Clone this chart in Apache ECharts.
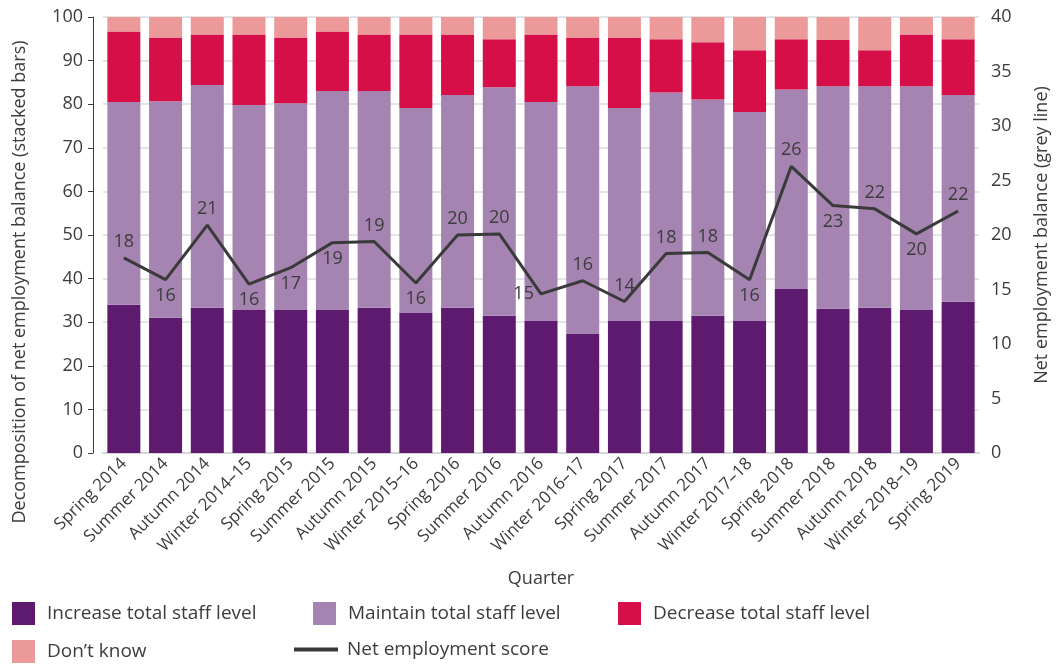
<!DOCTYPE html>
<html>
<head>
<meta charset="utf-8">
<script src="https://cdn.jsdelivr.net/npm/echarts@6/dist/echarts.min.js"></script>
<style>
  html, body { margin: 0; padding: 0; background: #fff; }
  #chart { width: 1059px; height: 664px; }
</style>
</head>
<body>
<div id="chart"></div>
<script>
const quarters = ['Spring 2014', 'Summer 2014', 'Autumn 2014', 'Winter 2014–15', 'Spring 2015', 'Summer 2015',
  'Autumn 2015', 'Winter 2015–16', 'Spring 2016', 'Summer 2016', 'Autumn 2016', 'Winter 2016–17', 'Spring 2017',
  'Summer 2017', 'Autumn 2017', 'Winter 2017–18', 'Spring 2018', 'Summer 2018', 'Autumn 2018', 'Winter 2018–19', 'Spring 2019']

const increase = [34.0, 31.0, 33.3, 32.8, 32.8, 32.8, 33.3, 32.1, 33.3, 31.5, 30.3, 27.3, 30.3, 30.3, 31.5, 30.3, 37.6, 33.1, 33.3, 32.8, 34.7]
const maintain = [46.5, 49.7, 51.1, 47.0, 47.4, 50.2, 49.7, 47.0, 48.8, 52.4, 50.2, 56.8, 48.8, 52.4, 49.6, 47.9, 45.8, 51.0, 50.8, 51.3, 47.4]
const decrease = [16.2, 14.6, 11.6, 16.2, 15.1, 13.7, 13.0, 16.9, 13.9, 11.0, 15.5, 11.2, 16.2, 12.2, 13.1, 14.2, 11.5, 10.6, 8.3, 11.9, 12.8]
const dontKnow = [3.3, 4.7, 4.0, 4.0, 4.7, 3.3, 4.0, 4.0, 4.0, 5.1, 4.0, 4.7, 4.7, 5.1, 5.8, 7.6, 5.1, 5.3, 7.6, 4.0, 5.1]
const netScore = [17.9, 15.9, 20.9, 15.5, 17.0, 19.3, 19.4, 15.6, 20.0, 20.1, 14.6, 15.8, 13.9, 18.3, 18.4, 15.9, 26.3, 22.7, 22.4, 20.1, 22.2]

const leftTicks = [0, 100, 10]
const rightTicks = [0, 40, 5]

const FONT = 'Open Sans'
const TXT = '#3c3c3c'

// where each score label sits relative to the line
const labelSide = ['top', 'bottom', 'top', 'bottom', 'bottom', 'bottom', 'top', 'bottom', 'top', 'top', 'left',
  'top', 'top', 'top', 'top', 'bottom', 'top', 'bottom', 'top', 'bottom', 'top']

const chart = echarts.init(document.getElementById('chart'))

function barSeries (name, data, color) {
  return {
    name: name,
    type: 'bar',
    stack: 'share',
    barWidth: 33,
    yAxisIndex: 0,
    itemStyle: { color: color },
    data: data
  }
}

function legendItem (name, left, top, extra) {
  return Object.assign({
    data: [name],
    left: left,
    top: top,
    padding: 0,
    icon: 'rect',
    itemWidth: 23,
    itemHeight: 23,
    selectedMode: false,
    textStyle: { fontFamily: FONT, fontSize: 19, color: TXT, padding: [0, 0, 0, 7] }
  }, extra || {})
}

const option = {
  animation: false,
  textStyle: { fontFamily: FONT },
  grid: { left: 103, right: 78, top: 17, bottom: 211 },
  legend: [
    legendItem('Increase total staff level', 12, 602),
    legendItem('Maintain total staff level', 313, 602),
    legendItem('Decrease total staff level', 618, 602),
    legendItem('Don\u2019t know', 12, 640),
    legendItem('Net employment score', 294, 640, {
      itemWidth: 44,
      itemHeight: 4,
      textStyle: { fontFamily: FONT, fontSize: 19, color: TXT, padding: [0, 0, 0, 4] }
    })
  ],
  graphic: [{
    type: 'text',
    x: 20,
    y: 282,
    rotation: Math.PI / 2,
    style: {
      text: 'Decomposition of net employment balance (stacked bars)',
      fontFamily: FONT,
      fontSize: 18,
      fill: TXT,
      align: 'center',
      verticalAlign: 'middle'
    }
  }],
  xAxis: {
    type: 'category',
    data: quarters,
    name: 'Quarter',
    nameLocation: 'middle',
    nameGap: 117,
    nameTextStyle: { fontFamily: FONT, fontSize: 18, color: TXT },
    axisLine: { lineStyle: { color: '#d6d6d6', width: 2 } },
    axisTick: { show: false },
    axisLabel: { interval: 0, rotate: 45, fontFamily: FONT, fontSize: 17, color: TXT, margin: 8 }
  },
  yAxis: [{
    type: 'value',
    min: leftTicks[0],
    max: leftTicks[1],
    interval: leftTicks[2],
    offset: 10,
    axisLine: { show: true, lineStyle: { color: TXT, width: 1 } },
    axisTick: { show: true, length: 5, lineStyle: { color: TXT } },
    axisLabel: { fontFamily: FONT, fontSize: 18, color: TXT, margin: 10 },
    splitLine: { lineStyle: { color: '#dcdcdc', width: 1.5 } }
  }, {
    type: 'value',
    min: rightTicks[0],
    max: rightTicks[1],
    interval: rightTicks[2],
    position: 'right',
    name: 'Net employment balance (grey line)',
    nameLocation: 'middle',
    nameRotate: 90,
    nameGap: 54,
    nameTextStyle: { fontFamily: FONT, fontSize: 18, color: TXT },
    axisLine: { show: false },
    axisTick: { show: false },
    axisLabel: { fontFamily: FONT, fontSize: 18, color: TXT, margin: 12 },
    splitLine: { show: false }
  }],
  series: [
    barSeries('Increase total staff level', increase, '#5e1a6e'),
    barSeries('Maintain total staff level', maintain, '#a684b2'),
    barSeries('Decrease total staff level', decrease, '#d60f48'),
    barSeries('Don\u2019t know', dontKnow, '#eb9999'),
    {
      name: 'Net employment score',
      type: 'line',
      yAxisIndex: 1,
      symbol: 'circle',
      symbolSize: 0.1,
      itemStyle: { color: '#3a3a3a' },
      lineStyle: { color: '#3a3a3a', width: 3 },
      data: netScore.map((v, i) => ({
        value: v,
        label: { position: labelSide[i] }
      })),
      label: {
        show: true,
        distance: 7,
        fontFamily: FONT,
        fontSize: 18,
        color: TXT,
        formatter: p => Math.round(p.value)
      },
      z: 5
    }
  ]
}

chart.setOption(option)
</script>
</body>
</html>
